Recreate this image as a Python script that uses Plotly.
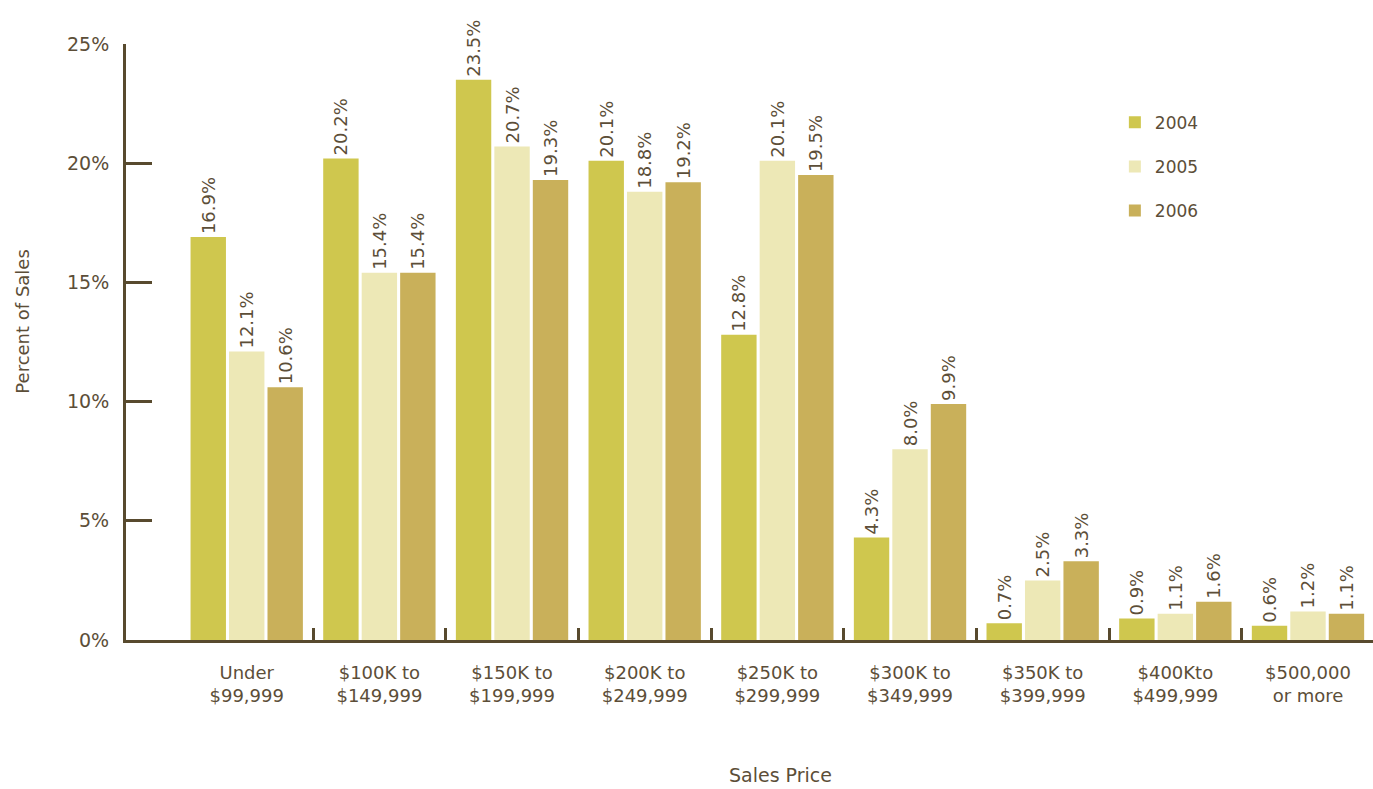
import plotly.graph_objects as go

categories = ["Under<br>$99,999", "$100K to<br>$149,999", "$150K to<br>$199,999",
              "$200K to<br>$249,999", "$250K to<br>$299,999", "$300K to<br>$349,999",
              "$350K to<br>$399,999", "$400Kto<br>$499,999", "$500,000<br>or more"]
years = ["2004", "2005", "2006"]
sales_2004 = [16.9, 20.2, 23.5, 20.1, 12.8, 4.3, 0.7, 0.9, 0.6]
sales_2005 = [12.1, 15.4, 20.7, 18.8, 20.1, 8.0, 2.5, 1.1, 1.2]
sales_2006 = [10.6, 15.4, 19.3, 19.2, 19.5, 9.9, 3.3, 1.6, 1.1]
y_ticks = [0, 5, 10, 15, 20, 25]

colors = ["#cfc74e", "#ede8b6", "#c9b05a"]
ink = "#584a2e"
text_col = "#5c4e38"
font_family = "DejaVu Sans"

idx = list(range(len(categories)))
fig = go.Figure()
for name, vals, col in zip(years, [sales_2004, sales_2005, sales_2006], colors):
    fig.add_trace(go.Bar(
        x=idx, y=vals, name=name, marker_color=col, marker_line_width=0,
        text=[f"{v:.1f}%" for v in vals], textposition="outside", textangle=-90,
        textfont=dict(size=18, color=text_col, family=font_family),
        constraintext="none", cliponaxis=False, legendgroup=name,
    ))

# invisible trace on the overlay axis, used only for the boundary ticks
fig.add_trace(go.Scatter(x=[i + 0.5 for i in idx[:-1]], y=[0] * (len(idx) - 1),
                         xaxis="x2", mode="markers", marker=dict(opacity=0),
                         showlegend=False, hoverinfo="skip"))

x_range = [-0.91, 8.49]
fig.update_layout(
    width=1373, height=789,
    margin=dict(l=126, r=0, t=44, b=149),
    paper_bgcolor="white", plot_bgcolor="white",
    barmode="group", bargap=0.13, bargroupgap=0.08,
    font=dict(family=font_family, color=text_col, size=18),
    xaxis=dict(range=x_range, tickvals=idx, ticktext=categories, ticks="",
               showline=True, linecolor=ink, linewidth=3, showgrid=False,
               zeroline=False, tickfont=dict(size=18, color=text_col),
               ticklabelstandoff=14),
    xaxis2=dict(range=x_range, overlaying="x", anchor="y",
                tickvals=[i + 0.5 for i in idx[:-1]], ticks="inside", ticklen=12,
                tickwidth=3, tickcolor=ink, showticklabels=False, showgrid=False,
                zeroline=False, showline=False, side="bottom"),
    yaxis=dict(range=[0, 25], tickvals=y_ticks, ticktext=[f"{t}%" for t in y_ticks],
               ticks="inside", ticklen=26, tickwidth=3, tickcolor=ink, showline=True,
               linecolor=ink, linewidth=3, showgrid=False, zeroline=False,
               tickfont=dict(size=19, color=text_col), ticklabelstandoff=10),
    legend=dict(x=0.793, y=0.898, xanchor="left", yanchor="top",
                font=dict(size=17, color=text_col), tracegroupgap=19,
                itemsizing="constant", bgcolor="rgba(0,0,0,0)"),
    annotations=[
        dict(text="Percent of Sales", textangle=-90, xref="paper", yref="paper",
             x=-0.083, y=0.535, xanchor="center", showarrow=False,
             font=dict(size=18, color=text_col)),
        dict(text="Sales Price", xref="paper", yref="paper", x=0.525, y=-0.248,
             showarrow=False, font=dict(size=19, color=text_col)),
    ],
)

fig.write_html("out.html")
